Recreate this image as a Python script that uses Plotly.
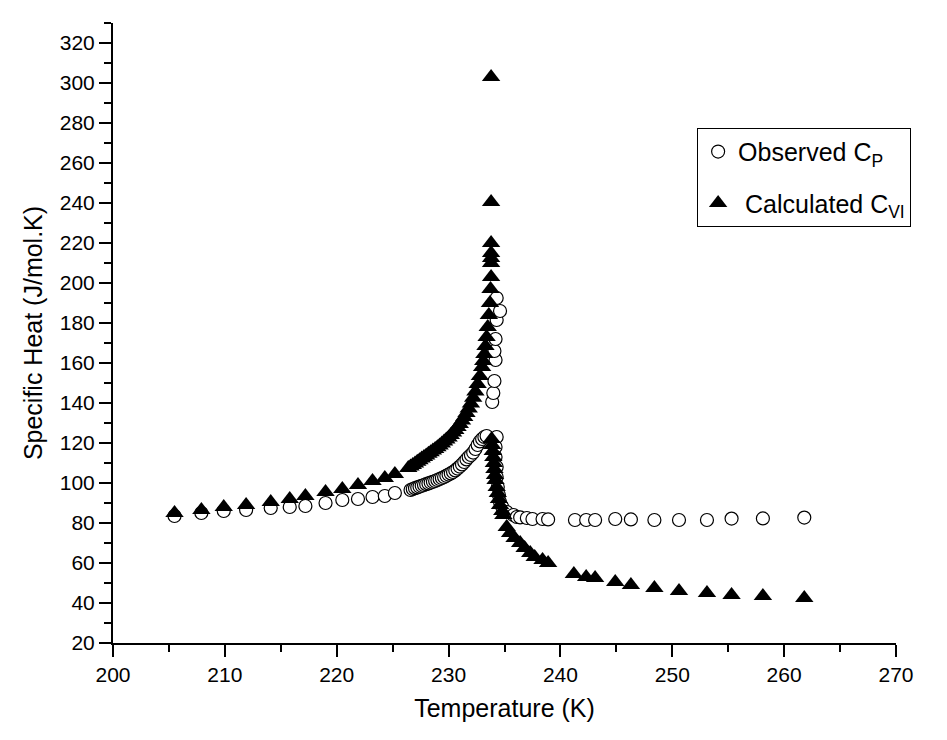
import plotly.graph_objects as go

# Observed Cp (open circles)
obs_T = [205.5, 207.9, 209.9, 211.9, 214.1, 215.8, 217.2, 219.0, 220.5, 221.9, 223.2, 224.3, 225.2,
         226.6, 226.8, 227.0, 227.2, 227.4, 227.6, 227.8, 228.0, 228.2, 228.4, 228.6, 228.8, 229.0,
         229.2, 229.4, 229.6, 229.8, 230.0, 230.2, 230.4, 230.6, 230.8, 231.0, 231.2, 231.4, 231.6,
         231.8, 232.0, 232.2, 232.4, 232.6, 232.8, 233.0, 233.2, 233.4,
         233.9, 234.0, 234.1, 234.2, 234.1, 234.2, 234.3, 234.6, 234.3,
         234.3, 234.2, 234.2, 234.3, 234.3, 234.4, 234.5, 234.6, 234.8, 235.2, 235.8, 236.1, 236.4,
         237.0, 237.5, 238.4, 238.9, 241.3, 242.3, 243.1, 244.9, 246.3, 248.4, 250.6, 253.1, 255.3,
         258.1, 261.8]
obs_C = [83.5, 85.0, 86.0, 86.5, 87.5, 88.0, 88.5, 90.0, 91.5, 92.0, 93.0, 93.5, 95.0,
         96.5, 97.0, 97.4, 97.8, 98.2, 98.6, 99.0, 99.4, 99.8, 100.2, 100.6, 101.0, 101.5,
         102.0, 102.5, 103.0, 103.6, 104.2, 104.8, 105.5, 106.3, 107.2, 108.2, 109.3, 110.5, 111.8,
         113.0, 114.0, 115.2, 117.0, 119.0, 120.8, 122.0, 123.0, 123.5,
         140.5, 145.0, 151.0, 161.5, 166.0, 172.0, 181.5, 186.0, 192.5,
         123.0, 118.0, 113.0, 108.0, 103.0, 98.0, 94.0, 90.5, 88.0, 85.5, 84.0, 83.0, 82.8,
         82.5, 82.0, 82.0, 81.8, 81.5, 81.5, 81.5, 82.0, 81.8, 81.5, 81.5, 81.5, 82.2,
         82.3, 82.7]

# Calculated C_VI (filled triangles)
calc_T = [205.5, 207.9, 209.9, 211.9, 214.1, 215.8, 217.2, 219.0, 220.5, 221.9, 223.2, 224.3, 225.2,
          226.4, 226.6, 226.8, 227.0, 227.2, 227.4, 227.6, 227.8, 228.0, 228.2, 228.4, 228.6, 228.8,
          229.0, 229.2, 229.4, 229.6, 229.8, 230.0, 230.2, 230.4, 230.6, 230.8, 231.0, 231.2, 231.4,
          231.6, 231.8, 232.0, 232.2, 232.4, 232.6, 232.8, 233.0, 233.1, 233.2, 233.3, 233.4, 233.5,
          233.6, 233.7, 233.75, 233.8, 233.8, 233.8, 233.8, 233.8, 233.8,
          233.8, 233.85, 233.9, 233.95, 234.0, 234.05, 234.1, 234.15, 234.2, 234.3, 234.4, 234.5,
          234.6, 234.8, 234.9, 235.2, 235.5, 235.9, 236.4, 236.8, 237.3, 237.7, 238.4, 238.9,
          241.2, 242.3, 243.1, 244.9, 246.3, 248.4, 250.6, 253.1, 255.3, 258.1, 261.8]
calc_C = [85.0, 86.5, 88.0, 89.0, 90.5, 92.0, 93.5, 95.5, 97.0, 99.0, 101.0, 102.5, 104.5,
          107.5, 108.2, 109.0, 109.8, 110.6, 111.4, 112.2, 113.0, 113.8, 114.6, 115.4, 116.2, 117.0,
          117.9, 118.8, 119.7, 120.7, 121.7, 122.8, 124.0, 125.2, 126.5, 128.0, 129.5, 131.2, 133.0,
          135.0, 137.3, 139.8, 142.6, 145.8, 149.5, 153.5, 158.0, 161.0, 164.5, 168.5, 173.0, 178.0,
          184.0, 190.0, 197.0, 203.0, 210.0, 212.5, 215.0, 220.0, 240.5,
          303.0, 122.0, 119.0, 116.0, 113.0, 110.0, 107.0, 104.0, 101.5, 98.0, 95.0, 92.0,
          89.0, 86.0, 84.0, 78.0, 75.0, 72.5, 70.0, 67.5, 65.0, 63.0, 61.5, 60.0,
          54.5, 53.0, 52.5, 50.5, 49.0, 47.5, 46.0, 45.0, 44.0, 43.5, 42.5]

x_range = [200, 270]
y_range = [20, 330]
x_ticks = [200, 210, 220, 230, 240, 250, 260, 270]
y_ticks = list(range(20, 321, 20))

FONT = "Arial, 'Liberation Sans', sans-serif"

fig = go.Figure()
fig.add_trace(go.Scatter(
    x=obs_T, y=obs_C, mode="markers", name="Observed C<sub>P</sub>",
    legendgroup="a",
    marker=dict(symbol="circle", size=13, color="white", line=dict(color="black", width=1.2)),
))
fig.add_trace(go.Scatter(
    x=calc_T, y=calc_C, mode="markers", name=" Calculated C<sub>VI</sub>",
    legendgroup="b",
    marker=dict(symbol="triangle-up", size=16, color="black", line=dict(color="black", width=0)),
))

axis_common = dict(
    showgrid=False, zeroline=False, showline=True, linecolor="black", linewidth=2,
    ticks="outside", ticklen=12, tickwidth=2, tickcolor="black",
    tickfont=dict(family=FONT, size=21, color="black"),
    mirror=False,
)
fig.update_xaxes(
    range=x_range, tickvals=x_ticks, **axis_common,
    minor=dict(ticks="outside", ticklen=7, tickwidth=2, tickcolor="black", dtick=5, tick0=200),
    title=dict(text="Temperature (K)", font=dict(family=FONT, size=25, color="black"), standoff=14),
)
fig.update_yaxes(
    range=y_range, tickvals=y_ticks, **axis_common,
    minor=dict(ticks="outside", ticklen=7, tickwidth=2, tickcolor="black", dtick=10, tick0=20),
    title=dict(text="Specific Heat (J/mol.K)", font=dict(family=FONT, size=25, color="black"), standoff=10),
)
fig.update_layout(
    width=947, height=740,
    margin=dict(l=113, r=51, t=23, b=97),
    paper_bgcolor="white", plot_bgcolor="white",
    showlegend=True,
    legend=dict(
        x=0.746, y=0.831, xanchor="left", yanchor="top",
        bordercolor="black", borderwidth=1, bgcolor="white",
        font=dict(family=FONT, size=25, color="black"),
        traceorder="grouped", tracegroupgap=16,
    ),
)

fig.write_html("out.html")
